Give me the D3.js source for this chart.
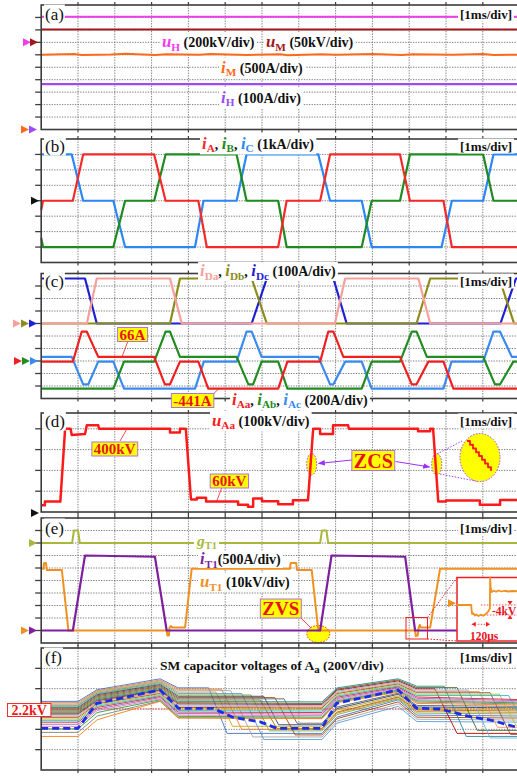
<!DOCTYPE html>
<html>
<head>
<meta charset="utf-8">
<script src="https://cdn.jsdelivr.net/npm/d3@7"></script>
<style>
  body { margin: 0; background: #fff; }
  svg text { font-family: "Liberation Serif", "Times New Roman", serif; }
</style>
</head>
<body>
<svg id="fig" width="517" height="777"></svg>
<script>
// ---------------- data (time in ms, 1 ms/div) ----------------
const timeDomain = [0, 13];

// (a) dc side, kV / A
const uH = [[0, 410], [13.2, 410]];
const uM = [[0, 52], [13.2, 52]];
const iM = [[0, 3000], [0.9, 3030], [1.1, 2990], [1.9, 3010], [2.3, 3040], [3.1, 2990], [3.4, 3020],
            [4.3, 3000], [4.6, 3035], [5.6, 2995], [6.5, 3020], [6.7, 2985], [7.6, 3025], [8.0, 3000],
            [9.0, 3030], [9.8, 2990], [10.1, 3020], [11.2, 3000], [12.0, 3030], [12.3, 2995], [13.2, 3010]];
const iH = [[0, 365], [13.2, 365]];

// (b) ac phase currents, kA
const iA = [[0, -0.6], [0.05, 0], [0.86, 0], [1.14, 3], [3.07, 3], [3.38, 0], [4.27, 0], [4.50, -3], [6.44, -3],
            [6.67, 0], [7.58, 0], [7.85, 3], [9.75, 3], [10.02, 0], [10.93, 0], [11.16, -3], [13.2, -3]];
const iB = [[0, -2.4], [0.05, -3], [1.96, -3], [2.28, 0], [3.07, 0], [3.38, 3], [5.31, 3], [5.58, 0], [6.44, 0],
            [6.67, -3], [8.71, -3], [8.98, 0], [9.75, 0], [10.02, 3], [12.01, 3], [12.29, 0], [13.2, 0]];
const iC = [[0, 3], [0.83, 3], [1.14, 0], [1.96, 0], [2.28, -3], [4.18, -3], [4.41, 0], [5.31, 0], [5.58, 3],
            [7.53, 3], [7.85, 0], [8.71, 0], [8.98, -3], [10.88, -3], [11.16, 0], [12.01, 0], [12.29, 3], [13.2, 3]];

// (c) diode currents (A) and arm currents (A)
const iDa = [[0, 0], [1.24, 0], [1.51, 360], [3.50, 360], [3.82, 0], [7.98, 0], [8.26, 360], [10.25, 360], [10.57, 0], [13.2, 0]];
const iDb = [[0, 0], [3.50, 0], [3.77, 360], [5.72, 360], [6.13, 0], [10.20, 0], [10.57, 360], [12.45, 360], [12.85, 0], [13.2, 0]];
const iDc = [[0, 360], [1.19, 360], [1.51, 0], [5.72, 0], [6.13, 360], [7.94, 360], [8.30, 0], [12.48, 0], [12.90, 360], [13.2, 360]];

const iAa = [[0, -10], [0.86, -10], [1.10, 469], [1.24, 469], [1.55, 66], [3.07, 66], [3.36, -373], [3.50, -373],
             [3.77, -10], [4.27, -10], [4.54, -441], [6.44, -441], [6.69, -10], [7.58, -10], [7.80, 469], [7.94, 469],
             [8.21, 66], [9.75, 66], [10.07, -373], [10.20, -373], [10.52, -10], [10.93, -10], [11.20, -441], [13.2, -441]];
const iAb = [[0, -441], [1.96, -441], [2.25, -10], [3.07, -10], [3.38, 469], [3.50, 469], [3.77, 66], [5.31, 66],
             [5.63, -373], [5.76, -373], [5.99, -10], [6.44, -10], [6.69, -441], [8.71, -441], [8.98, -10], [9.75, -10],
             [10.07, 469], [10.20, 469], [10.48, 66], [12.01, 66], [12.33, -373], [12.47, -373], [12.83, -10], [13.2, -10]];
const iAc = [[0, 66], [0.83, 66], [1.14, -373], [1.28, -373], [1.55, -10], [1.96, -10], [2.25, -441], [4.18, -441],
             [4.42, -10], [5.31, -10], [5.58, 469], [5.72, 469], [5.99, 66], [7.53, 66], [7.85, -373], [7.94, -373],
             [8.26, -10], [8.71, -10], [8.98, -441], [10.93, -441], [11.15, -10], [12.01, -10], [12.29, 469], [12.47, 469],
             [12.79, 66], [13.2, 66]];

// (d) arm voltage, kV
const uAa = [[0, 32], [0.10, 32], [0.10, 50], [0.52, 50], [0.65, 400], [0.80, 400], [0.83, 370], [1.19, 375],
             [1.24, 417], [1.55, 417], [1.57, 400], [3.50, 400], [3.50, 382], [3.77, 382], [3.77, 400], [3.93, 400],
             [4.07, 60], [4.23, 60], [4.23, 68], [4.48, 68], [4.48, 50], [5.35, 50], [5.35, 35], [5.62, 35],
             [5.62, 25], [5.76, 25], [5.76, 65], [6.00, 65], [6.00, 52], [6.44, 52], [6.44, 37], [6.84, 37],
             [6.84, 56], [7.25, 56], [7.39, 400], [7.58, 400], [7.58, 375], [7.93, 375], [7.93, 417], [8.34, 417],
             [8.36, 400], [10.24, 400], [10.24, 388], [10.57, 388], [10.57, 400], [10.65, 400], [10.79, 50],
             [11.00, 50], [11.00, 55], [11.92, 55], [11.92, 35], [12.47, 35], [12.47, 58], [13.2, 58]];
const zcsZoom = [[0, 0], [1, 0], [1, 1], [2, 1], [2, 2], [3, 2], [3, 3], [4, 3], [4, 4], [5, 4], [5, 5],
                 [6, 5], [6, 6], [7, 6], [7, 7], [8, 7], [8, 8]];

// (e) thyristor T1: gate (logic), current (A), voltage (kV)
const gT1 = [[0, 0], [0.84, 0], [0.89, 1], [1.00, 1], [1.05, 0], [7.58, 0], [7.63, 1], [7.75, 1], [7.80, 0], [13.2, 0]];
const iT1 = [[0, 0], [0.86, 0], [1.19, 3000], [3.09, 2950], [3.41, 0], [7.58, 0], [7.89, 3000], [9.89, 2950], [10.16, 0], [13.2, 0]];
const uT1 = [[0, 49.5], [0.06, 49.5], [0.08, 54], [0.13, 54], [0.15, 48.5], [0.56, 48.5], [0.74, 0], [3.41, 0],
             [3.43, -4], [3.47, -4], [3.49, 2.5], [3.52, 3.5], [3.56, 2.5], [3.91, 2.5], [4.09, 49.5], [6.76, 49.5],
             [6.78, 54], [6.93, 54], [6.95, 48.5], [7.35, 48.5], [7.53, 0], [10.16, 0], [10.18, -4.5], [10.23, -4],
             [10.26, 2.5], [10.29, 4.5], [10.31, 2.5], [10.57, 2.5], [10.84, 49.5], [13.2, 49.5]];
// zoomed turn-off of T1 (time in us from the drop, kV relative)
const uT1Zoom = [[-100, 0], [-3, 0], [0, -2.5], [3, -3.6], [10, -3.3], [20, -4.2], [30, -3.8], [45, -4.4], [60, -3.9],
                 [75, -4.3], [90, -3.7], [100, -3.2], [108, -2.6], [115, -1.8], [119, -1.5], [121, 11], [124, 7],
                 [130, 5.2], [145, 5.7], [160, 5.3], [175, 5.8], [195, 5.4], [215, 5.7], [240, 5.4], [265, 5.6],
                 [290, 5.5], [310, 5.6]];

// (f) SM capacitor voltages (V); knot times of the common charge pattern
const smKnots = [1.0, 1.52, 3.23, 3.72, 7.63, 8.04, 9.70, 10.21];
// [v0, v1, v2, v3, drop1Start, drop1End, v4, v5, v6, v7, drop2Start, drop2End, v8]
const smLines = [
  [2275, 2390, 2497, 2408, 4.55, 5.05, 1960, 2120, 2290, 2140, null, null, 2130],
  [2262, 2380, 2485, 2395, 4.90, 5.45, 2000, 2160, 2310, 2175, null, null, 2165],
  [2250, 2372, 2476, 2380, 5.15, 5.75, 1925, 2080, 2250, 2100, null, null, 2090],
  [2240, 2365, 2468, 2366, 4.75, 5.20, 2030, 2190, 2330, 2205, null, null, 2195],
  [2232, 2356, 2460, 2352, 5.45, 6.05, 1900, 2061, 2226, 2077, null, null, 2070],
  [2222, 2348, 2450, 2338, 5.70, 6.20, 1985, 2145, 2300, 2160, null, null, 2150],
  [2212, 2340, 2440, 2325, 6.05, 6.45, 2045, 2205, 2345, 2220, null, null, 2210],
  [2200, 2330, 2430, 2312, 6.35, 6.90, 1945, 2105, 2270, 2120, null, null, 2110],
  [2190, 2320, 2420, 2300, 6.60, 6.95, 2060, 2220, 2355, 2235, null, null, 2225],
  [2180, 2310, 2410, 2288, 5.95, 6.40, 2010, 2170, 2318, 2190, null, null, 2180],
  [2170, 2300, 2400, 2275, null, null, 2270, 2408, 2497, 2424, 10.95, 11.55, 1930],
  [2160, 2290, 2390, 2262, null, null, 2255, 2396, 2486, 2410, 11.30, 11.85, 1990],
  [2150, 2280, 2382, 2250, null, null, 2245, 2385, 2476, 2398, 10.70, 11.30, 1960],
  [2140, 2272, 2372, 2240, null, null, 2232, 2374, 2466, 2386, 11.60, 12.20, 1915],
  [2128, 2262, 2362, 2228, null, null, 2220, 2362, 2456, 2372, 11.90, 12.40, 2020],
  [2115, 2252, 2352, 2215, null, null, 2210, 2352, 2446, 2360, 12.20, 12.75, 1950],
  [2100, 2240, 2342, 2200, null, null, 2195, 2340, 2436, 2346, 12.45, 12.90, 2040],
  [2085, 2228, 2332, 2185, null, null, 2180, 2328, 2426, 2332, 12.70, 13.25, 1980],
  [2070, 2215, 2322, 2170, null, null, 2165, 2316, 2416, 2318, null, null, 2290],
  [2050, 2200, 2312, 2155, null, null, 2150, 2304, 2406, 2305, null, null, 2280],
  [2030, 2185, 2300, 2140, null, null, 2135, 2292, 2396, 2292, null, null, 2268],
  [2005, 2165, 2290, 2128, null, null, 2120, 2280, 2386, 2280, null, null, 2258],
  [1970, 2130, 2280, 2115, null, null, 2110, 2270, 2376, 2268, null, null, 2248],
  [1930, 2094, 2275, 2111, null, null, 2105, 2262, 2366, 2255, null, null, 2238]
];
const smColors = ["#4472c4", "#ed7d31", "#a5a5a5", "#d4a017", "#5b9bd5", "#70ad47", "#264478", "#9e480e",
                  "#636363", "#997300", "#2e8b8b", "#43682b", "#c00000", "#7cafdd", "#f1975a", "#8c564b",
                  "#bcbd22", "#17becf", "#d62728", "#9467bd", "#e377c2", "#2ca02c", "#7f7f7f", "#ff7f0e"];
const smRef = [[0, 2010], [1.0, 2010], [1.51, 2256], [3.23, 2387], [3.73, 2207], [4.67, 2207], [5.21, 2118],
               [5.94, 2075], [6.40, 2010], [7.62, 2010], [8.03, 2256], [9.70, 2387], [10.20, 2207], [10.84, 2200],
               [11.66, 2124], [12.20, 2092], [12.93, 2020]];

// ---------------- drawing ----------------
const svg = d3.select('#fig');
const defs = svg.append('defs');
const x = d3.scaleLinear().domain(timeDomain).range([41.2, 519.6]);
const RIGHT = 522;
let clipN = 0;

defs.append('marker').attr('id', 'arrP').attr('viewBox', '0 0 10 10')
    .attr('refX', 9).attr('refY', 5).attr('markerWidth', 7).attr('markerHeight', 7)
    .attr('orient', 'auto')
  .append('path').attr('d', 'M0,1L10,5L0,9Z').attr('fill', '#9b30ff');

function makePanel(top, bottom, nDiv) {
    const yDiv = d3.scaleLinear().domain([0, nDiv]).range([bottom, top]);
    const cid = 'clip' + (clipN++);
    defs.append('clipPath').attr('id', cid).append('rect')
        .attr('x', x(0) - 1).attr('y', top).attr('width', RIGHT - x(0)).attr('height', bottom - top);
    const g = svg.append('g');
    const nLines = Math.ceil(nDiv - 0.01);

    // dotted grid
    const grid = g.append('g').attr('stroke', '#6e6e6e').attr('stroke-width', 0.9)
        .attr('stroke-dasharray', '1.3,1.3');
    d3.range(1, nLines).forEach(k => grid.append('line')
        .attr('x1', x(0)).attr('x2', RIGHT).attr('y1', yDiv(k)).attr('y2', yDiv(k)));
    d3.range(1, 13).forEach(k => grid.append('line')
        .attr('x1', x(k)).attr('x2', x(k)).attr('y1', top).attr('y2', bottom));

    const traces = g.append('g').attr('clip-path', `url(#${cid})`);

    // frame with ticks
    const frame = g.append('g').attr('stroke', '#3c3c3c');
    frame.append('rect').attr('x', x(0)).attr('y', top).attr('width', RIGHT + 10 - x(0))
        .attr('height', bottom - top).attr('fill', 'none').attr('stroke-width', 1.6);
    d3.range(1, nLines).forEach(k => frame.append('line').attr('stroke-width', 1.3)
        .attr('x1', x(0) - 6).attr('x2', x(0)).attr('y1', yDiv(k)).attr('y2', yDiv(k)));
    d3.range(1, 13).forEach(k => {
        frame.append('line').attr('stroke-width', 1.2)
            .attr('x1', x(k)).attr('x2', x(k)).attr('y1', bottom).attr('y2', bottom + 3);
        frame.append('line').attr('stroke-width', 1.2)
            .attr('x1', x(k)).attr('x2', x(k)).attr('y1', top - 3).attr('y2', top);
    });
    const notes = g.append('g');
    return { top, bottom, yDiv, traces, notes };
}

// channel scale: zero on grid division zeroDiv, perDiv units per division
function chan(p, zeroDiv, perDiv) {
    return d3.scaleLinear().domain([0, perDiv]).range([p.yDiv(zeroDiv), p.yDiv(zeroDiv + 1)]);
}

function trace(layer, data, xs, ys, color, w, dash) {
    const path = layer.append('path').datum(data)
        .attr('d', d3.line().x(d => xs(d[0])).y(d => ys(d[1])))
        .attr('fill', 'none').attr('stroke', color).attr('stroke-width', w)
        .attr('stroke-linejoin', 'round');
    if (dash) path.attr('stroke-dasharray', dash);
    return path;
}

function chanMarker(tipX, y, color) {
    svg.append('path').attr('d', `M${tipX - 8},${y - 4}L${tipX},${y}L${tipX - 8},${y + 4}Z`)
        .attr('fill', color);
}

// text with tspans; parts: [text, colour, style] (style: i = italic, s = subscript)
function label(layer, px, py, parts, o = {}) {
    const fs = o.size || 14;
    const t = layer.append('text').attr('x', px).attr('y', py)
        .attr('font-size', fs).attr('font-weight', o.weight || 'bold')
        .attr('text-anchor', o.anchor || 'start').attr('fill', o.color || '#111');
    let lift = 0;
    parts.forEach(pt => {
        const [s, col, st = ''] = typeof pt === 'string' ? [pt] : pt;
        const sp = t.append('tspan').text(s);
        if (col) sp.attr('fill', col);
        const want = st.includes('s') ? fs * 0.28 : 0;
        if (want !== lift) { sp.attr('dy', want - lift); lift = want; }
        if (st.includes('s')) sp.attr('font-size', fs * 0.8);
        if (st.includes('i')) sp.attr('font-style', 'italic').attr('font-size', fs * 1.2);
    });
    if (o.fill !== 'none') {
        const b = t.node().getBBox();
        const pad = o.pad == null ? 2 : o.pad;
        const padY = o.padY == null ? 0 : o.padY;
        layer.insert('rect', () => t.node())
            .attr('x', b.x - pad).attr('y', b.y - padY)
            .attr('width', b.width + 2 * pad).attr('height', b.height + 2 * padY)
            .attr('fill', o.fill || '#fff').attr('stroke', o.stroke || 'none')
            .attr('stroke-width', o.sw || 1);
    }
    return t;
}

function panelTag(p, letter, cy) {
    label(p.notes, 45, cy + 5.5, [`(${letter})`], { size: 17, weight: 'normal', pad: 1 });
    label(p.notes, 512, cy + 4.5, ['[1ms/div]'], { size: 13, anchor: 'end', pad: 2 });
}

const boxStyle = { fill: '#ffff00', stroke: '#b070e0', sw: 1, color: '#e8141c', pad: 2, padY: -1 };

// ---------- (a) ----------
const colUH = '#ef3cef', colUM = '#a01818', colIM = '#ff6a1a', colIH = '#9a4cf5';
const pa = makePanel(5, 129.5, 10);
trace(pa.traces, uH, x, chan(pa, 7, 200), colUH, 2);
trace(pa.traces, uM, x, chan(pa, 7, 50), colUM, 2);
trace(pa.traces, iM, x, chan(pa, 0, 500), colIM, 2);
trace(pa.traces, iH, x, chan(pa, 0, 100), colIH, 2.2);
panelTag(pa, 'a', 14);
label(pa.notes, 162, 47, [['u', colUH, 'i'], ['H', colUH, 's'], ' (200kV/div)']);
label(pa.notes, 266, 47, [['u', colUM, 'i'], ['M', colUM, 's'], ' (50kV/div)']);
label(pa.notes, 221, 72.5, [['i', colIM, 'i'], ['M', colIM, 's'], ' (500A/div)']);
label(pa.notes, 221, 102.5, [['i', colIH, 'i'], ['H', colIH, 's'], ' (100A/div)']);
chanMarker(31, pa.yDiv(7), colUH);
chanMarker(38, pa.yDiv(7), colUM);
chanMarker(29, pa.yDiv(0), colIM);
chanMarker(37, pa.yDiv(0), colIH);

// ---------- (b) ----------
const colA = '#f42a2a', colB = '#1f8a1f', colC = '#2b87f5';
const pb = makePanel(139, 262.5, 8);
const yb = chan(pb, 4, 1);
trace(pb.traces, iC, x, yb, colC, 2.2);
trace(pb.traces, iB, x, yb, colB, 2.2);
trace(pb.traces, iA, x, yb, colA, 2.2);
panelTag(pb, 'b', 146);
label(pb.notes, 202, 148.5, [['i', colA, 'i'], ['A', colA, 's'], ', ', ['i', colB, 'i'], ['B', colB, 's'], ', ',
    ['i', colC, 'i'], ['C', colC, 's'], ' (1kA/div)']);
chanMarker(39, pb.yDiv(4), '#111');

// ---------- (c) ----------
const colDa = '#f5a09a', colDb = '#8c8c1a', colDc = '#1f1fd6';
const colAa = '#f02020', colAb = '#228b22', colAc = '#3a8af0';
const pc = makePanel(273.5, 398.5, 10);
const ycD = chan(pc, 6, 100), ycA = chan(pc, 3, 200);
trace(pc.traces, iDc, x, ycD, colDc, 2.2);
trace(pc.traces, iDb, x, ycD, colDb, 2.2);
trace(pc.traces, iDa, x, ycD, colDa, 2.2);
trace(pc.traces, iAc, x, ycA, colAc, 2.2);
trace(pc.traces, iAb, x, ycA, colAb, 2.2);
trace(pc.traces, iAa, x, ycA, colAa, 2.2);
panelTag(pc, 'c', 281);
label(pc.notes, 200, 276, [['i', colDa, 'i'], ['Da', colDa, 's'], ', ', ['i', colDb, 'i'], ['Db', colDb, 's'], ', ',
    ['i', colDc, 'i'], ['Dc', colDc, 's'], ' (100A/div)'], { padY: -1 });
label(pc.notes, 232, 404.5, [['i', colAa, 'i'], ['Aa', colAa, 's'], ', ', ['i', colAb, 'i'], ['Ab', colAb, 's'], ', ',
    ['i', colAc, 'i'], ['Ac', colAc, 's'], ' (200A/div)'], { padY: -1 });
pc.notes.append('line').attr('x1', 128).attr('y1', 341).attr('x2', 122).attr('y2', ycA(66))
    .attr('stroke', '#f02020').attr('stroke-width', 0.8);
label(pc.notes, 132.5, 339.5, ['66A'], Object.assign({ size: 15, anchor: 'middle' }, boxStyle));
pc.notes.append('line').attr('x1', 212).attr('y1', 395).attr('x2', 219).attr('y2', ycA(-441))
    .attr('stroke', '#f02020').attr('stroke-width', 0.8);
label(pc.notes, 192.5, 405.5, ['-441A'], Object.assign({ size: 15, anchor: 'middle' }, boxStyle));
chanMarker(21, pc.yDiv(6), colDa);
chanMarker(29, pc.yDiv(6), colDb);
chanMarker(37, pc.yDiv(6), colDc);
chanMarker(22, pc.yDiv(3), colAa);
chanMarker(30, pc.yDiv(3), colAb);
chanMarker(38, pc.yDiv(3), colAc);

// ---------- (d) ----------
const colU = '#ff1a1a';
const pd = makePanel(413, 512, 99 / 20.8);
const yd = chan(pd, 0, 100);
[[311.7, 464.2], [436.7, 464.2]].forEach(c => pd.traces.append('ellipse')
    .attr('cx', c[0]).attr('cy', c[1]).attr('rx', 5).attr('ry', 10.8)
    .attr('fill', '#ffff00').attr('stroke', '#a040f0').attr('stroke-dasharray', '1.5,1.5'));
trace(pd.traces, uAa, x, yd, colU, 2.5);
panelTag(pd, 'd', 421);
label(pd.notes, 212, 425.5, [['u', colU, 'i'], ['Aa', colU, 's'], ' (100kV/div)']);
pd.notes.append('line').attr('x1', 120).attr('y1', 441).attr('x2', 127).attr('y2', yd(400))
    .attr('stroke', '#f02020').attr('stroke-width', 0.8);
label(pd.notes, 114.7, 454, ['400kV'], Object.assign({ size: 15, anchor: 'middle' }, boxStyle));
pd.notes.append('line').attr('x1', 221.7).attr('y1', 488).attr('x2', 216.7).attr('y2', yd(52))
    .attr('stroke', '#f02020').attr('stroke-width', 0.8);
label(pd.notes, 229.3, 486, ['60kV'], Object.assign({ size: 15, anchor: 'middle' }, boxStyle));
[[351.7, 460, 318.5, 463.5], [395.5, 461.5, 429.5, 467]].forEach(a => pd.notes.append('line')
    .attr('x1', a[0]).attr('y1', a[1]).attr('x2', a[2]).attr('y2', a[3])
    .attr('stroke', '#9b30ff').attr('stroke-width', 1).attr('marker-end', 'url(#arrP)'));
label(pd.notes, 373.3, 467.5, ['ZCS'], Object.assign({ size: 20, anchor: 'middle' }, boxStyle));
// magnified ZCS step
[[437, 454, 462, 441], [440, 474, 478, 481.5]].forEach(a => pd.notes.append('line')
    .attr('x1', a[0]).attr('y1', a[1]).attr('x2', a[2]).attr('y2', a[3])
    .attr('stroke', '#a040f0').attr('stroke-width', 1).attr('stroke-dasharray', '1.5,1.5'));
pd.notes.append('ellipse').attr('cx', 480).attr('cy', 457.5).attr('rx', 20).attr('ry', 24)
    .attr('fill', '#ffff00').attr('stroke', '#a040f0').attr('stroke-dasharray', '1.5,1.5');
const zx = d3.scaleLinear().domain([0, 8]).range([467, 491]);
const zy = d3.scaleLinear().domain([0, 8]).range([441, 471]);
trace(pd.notes, zcsZoom, zx, zy, colU, 1.8);
chanMarker(39, 513, '#111');

// ---------- (e) ----------
const colG = '#a9b83c', colI = '#7e1fa0', colV = '#f0901e';
const pe = makePanel(518, 643, 10);
const yeG = chan(pe, 8, 1), yeI = chan(pe, 1, 500), yeU = chan(pe, 1, 10);
pe.traces.append('ellipse').attr('cx', 318.3).attr('cy', 634).attr('rx', 11.5).attr('ry', 8.5)
    .attr('fill', '#ffff00').attr('stroke', '#f02020').attr('stroke-dasharray', '1.5,1.5');
trace(pe.traces, gT1, x, yeG, colG, 2);
trace(pe.traces, uT1, x, yeU, colV, 2);
trace(pe.traces, iT1, x, yeI, colI, 2.2);
panelTag(pe, 'e', 528);
label(pe.notes, 200, 564, [['i', colI, 'i'], ['T1', colI, 's'], '(500A/div)'], { padY: -2 });
label(pe.notes, 200, 587, [['u', colV, 'i'], ['T1', colV, 's'], ' (10kV/div)'], { padY: -1 });
label(pe.notes, 197, 545.5, [['g', colG, 'i'], ['T1', colG, 's']], { size: 13, padY: -2 });
pe.notes.append('line').attr('x1', 298).attr('y1', 615).attr('x2', 311).attr('y2', 628)
    .attr('stroke', '#f02020').attr('stroke-width', 0.8);
label(pe.notes, 280.8, 615, ['ZVS'], Object.assign({ size: 19, anchor: 'middle' }, boxStyle));
// inset of the turn-off transient
const inset = pe.notes.append('g');
inset.append('rect').attr('x', 406).attr('y', 617.5).attr('width', 21.5).attr('height', 21.5)
    .attr('fill', 'none').attr('stroke', '#f02020').attr('stroke-width', 1);
[[427.5, 617.5, 457, 577.5], [427.5, 639, 457, 641]].forEach(a => inset.append('line')
    .attr('x1', a[0]).attr('y1', a[1]).attr('x2', a[2]).attr('y2', a[3])
    .attr('stroke', '#f02020').attr('stroke-width', 1).attr('stroke-dasharray', '1.5,1.5'));
inset.append('rect').attr('x', 457).attr('y', 577.5).attr('width', 70).attr('height', 63.5)
    .attr('fill', '#fff').attr('stroke', '#f02020').attr('stroke-width', 1.5);
const ix = d3.scaleLinear().domain([0, 120]).range([471.7, 490]);
const iy = d3.scaleLinear().domain([0, -4]).range([605, 615]);
[0, -4].forEach(v => inset.append('line').attr('x1', ix(60)).attr('x2', 520)
    .attr('y1', iy(v)).attr('y2', iy(v)).attr('stroke', '#f02020').attr('stroke-width', 0.8)
    .attr('stroke-dasharray', '1.5,1.5'));
trace(inset, uT1Zoom, ix, iy, colV, 1.8);
inset.append('line').attr('x1', ix(0)).attr('x2', ix(120)).attr('y1', 624.3).attr('y2', 624.3)
    .attr('stroke', '#f02020').attr('stroke-width', 0.8).attr('stroke-dasharray', '1.5,1.5');
inset.append('path').attr('d', `M${ix(0)},624.3l4,-2.5v5Z M${ix(120)},624.3l-4,-2.5v5Z`).attr('fill', '#f02020');
inset.append('path').attr('d', `M510,${iy(0)}l-2.5,-4h5Z M510,${iy(-4)}l-2.5,4h5Z`).attr('fill', '#f02020');
label(inset, 484, 640, ['120μs'], { size: 11.5, anchor: 'middle', color: '#e8141c', fill: 'none' });
label(inset, 492, 614.5, ['-4kV'], { size: 11.5, color: '#e8141c', fill: 'none' });
chanMarker(456, 603.3, colV);
chanMarker(37, pe.yDiv(8), colG);
chanMarker(29, pe.yDiv(1), colV);
chanMarker(37, pe.yDiv(1), colI);

// ---------- (f) ----------
const pf = makePanel(648, 770, 6);
const yf = chan(pf, -8, 200);   // 2.2 kV sits on division 3
pf.traces.append('line').attr('x1', x(0)).attr('x2', RIGHT).attr('y1', yf(2200)).attr('y2', yf(2200))
    .attr('stroke', '#ff3030').attr('stroke-width', 0.9).attr('stroke-dasharray', '1.5,1.5');
smLines.forEach((r, i) => {
    const pts = [[0, r[0]], [smKnots[0], r[0]], [smKnots[1], r[1]], [smKnots[2], r[2]], [smKnots[3], r[3]]];
    if (r[4] != null) pts.push([r[4], r[3]], [r[5], r[6]]);
    pts.push([smKnots[4], r[6]], [smKnots[5], r[7]], [smKnots[6], r[8]], [smKnots[7], r[9]]);
    if (r[10] != null) pts.push([r[10], r[9]], [r[11], r[12]]);
    pts.push([13.3, r[12]]);
    trace(pf.traces, pts, x, yf, smColors[i % smColors.length], 0.9);
});
trace(pf.traces, smRef, x, yf, '#1a2ee6', 2.8, '7,4');
panelTag(pf, 'f', 657);
label(pf.notes, 160, 669.5, ['SM capacitor voltages of A', ['a', null, 's'], ' (200V/div)'], { size: 13.5 });
label(pf.notes, 29.2, 714.5, ['2.2kV'], { size: 14, anchor: 'middle', color: '#f01818', fill: '#fff',
    stroke: '#f03030', pad: 4, padY: -1 });
</script>
</body>
</html>
